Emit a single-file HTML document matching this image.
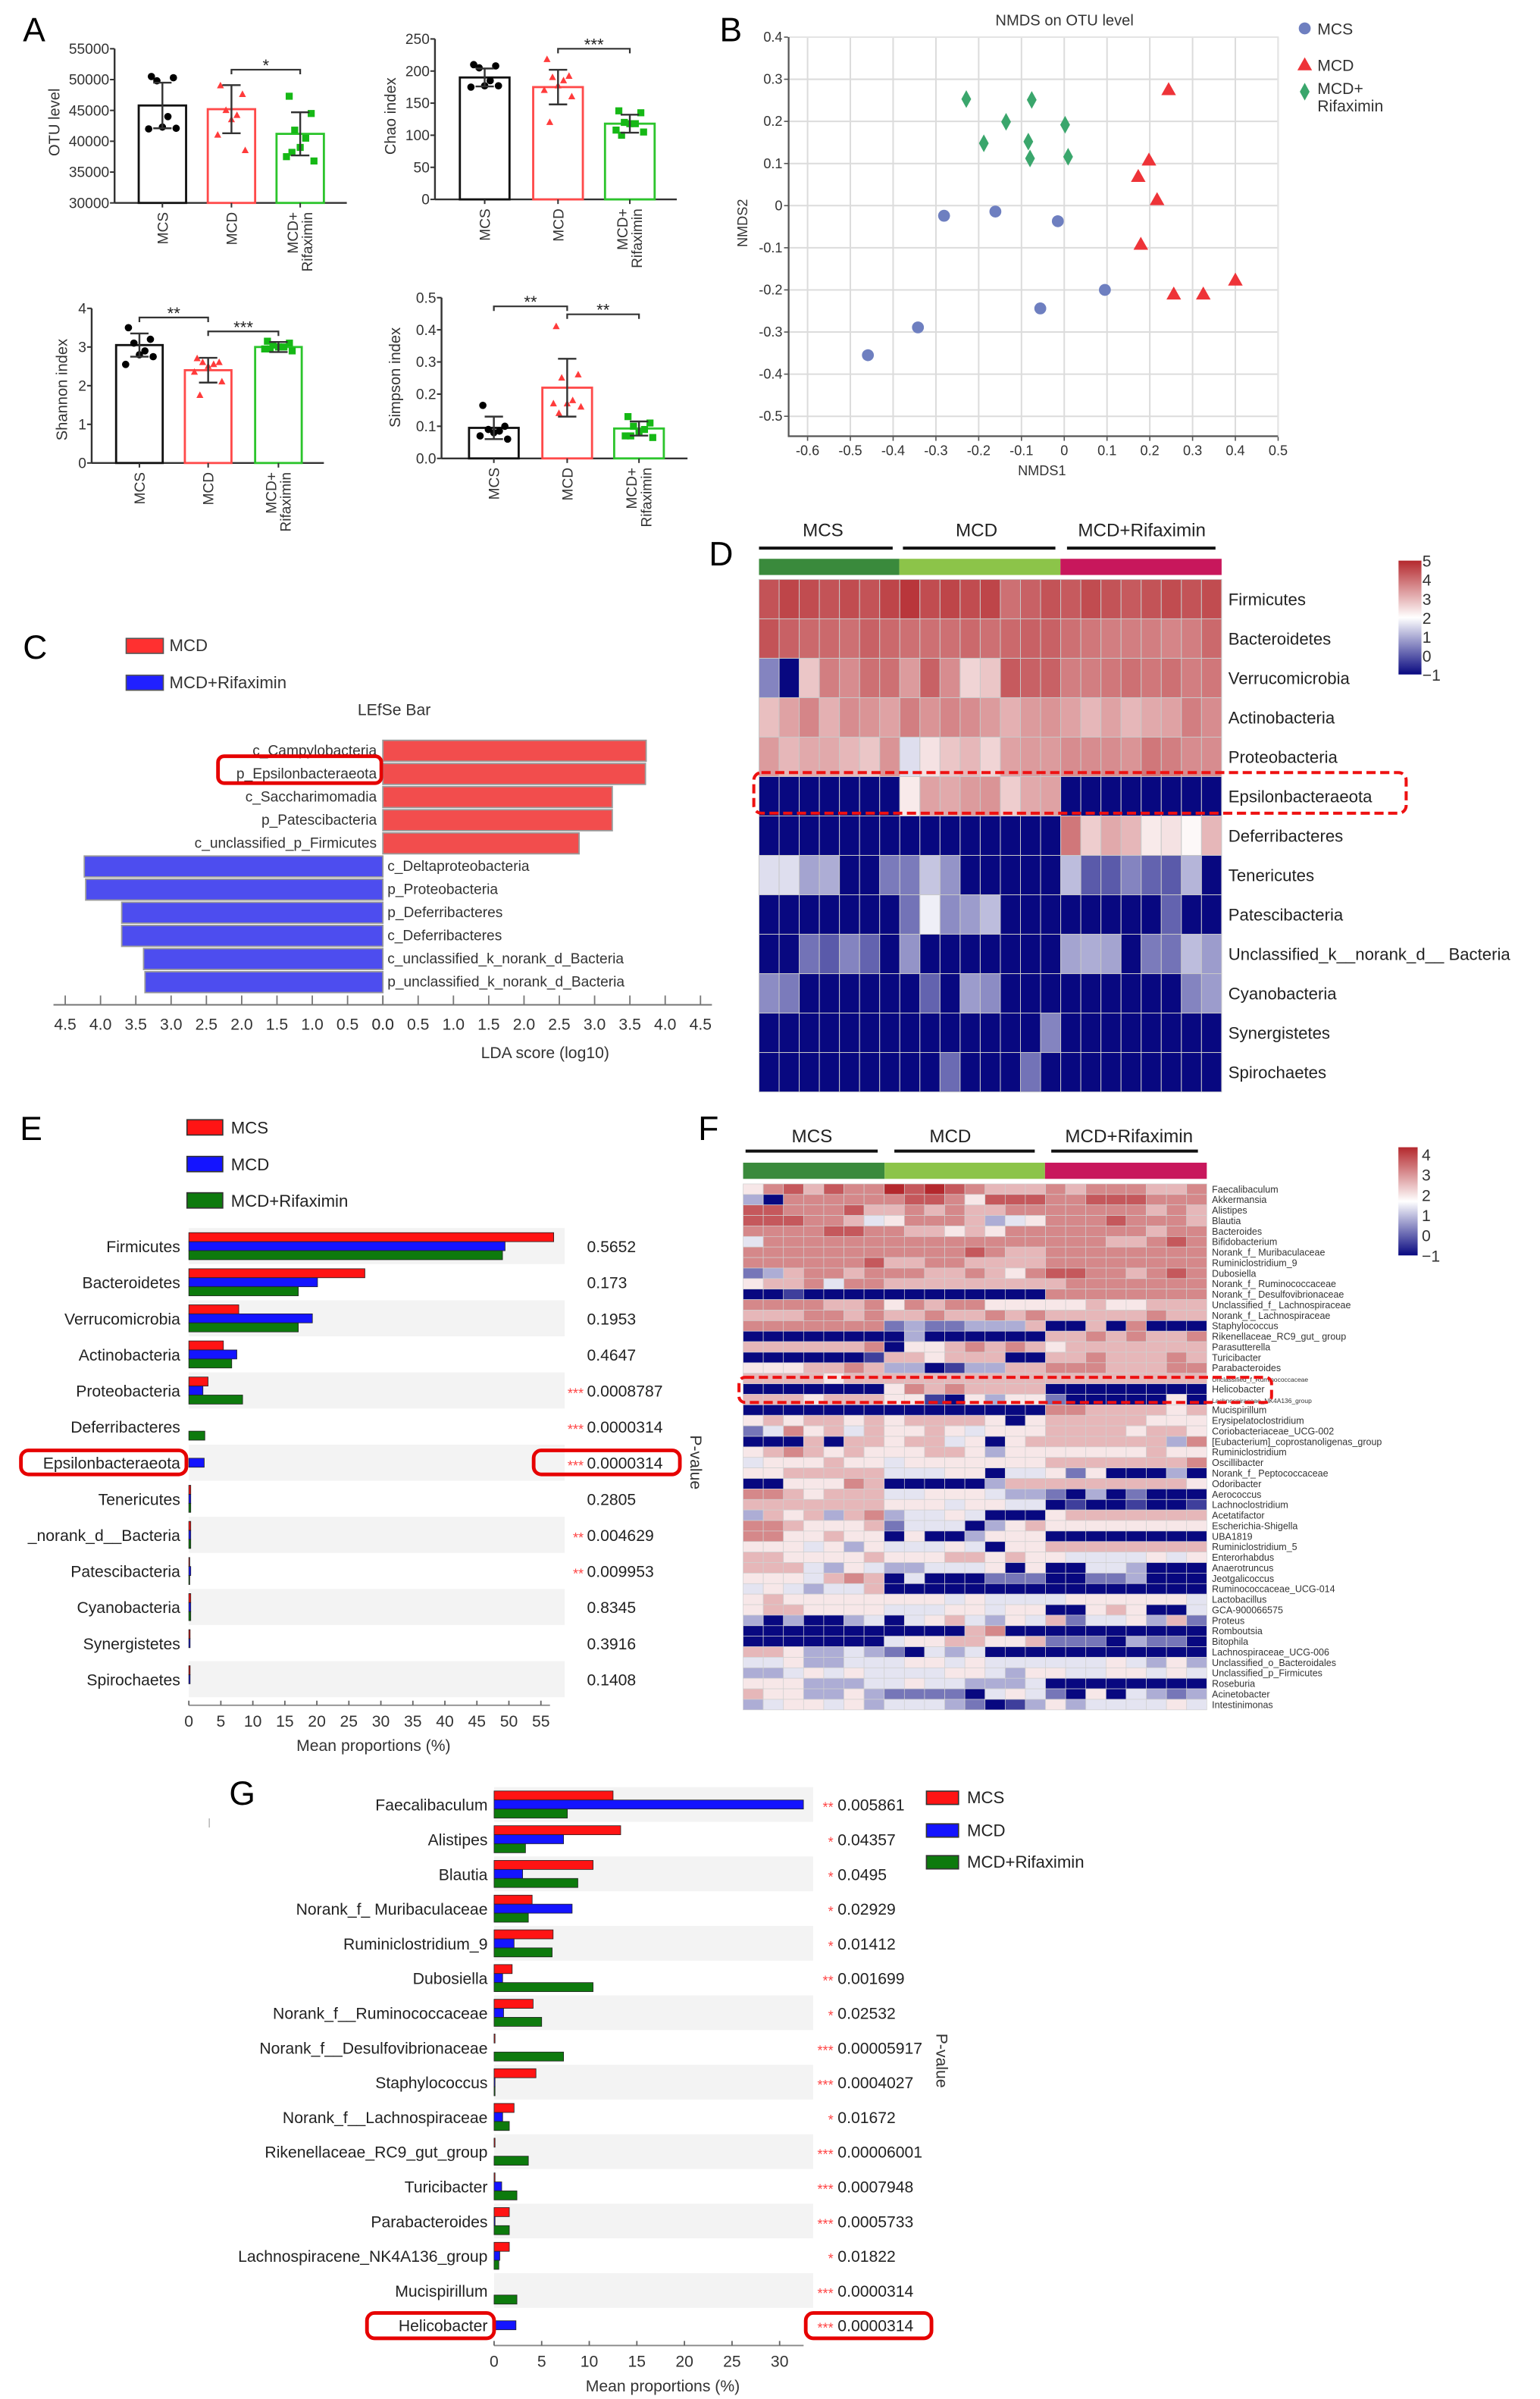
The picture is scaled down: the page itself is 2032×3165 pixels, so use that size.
<!DOCTYPE html>
<html><head><meta charset="utf-8">
<style>
html,body{margin:0;padding:0;background:#fff}
svg{display:block}
text{font-family:"Liberation Sans",Arial,sans-serif}
</style></head>
<body>
<svg id="fig" xmlns="http://www.w3.org/2000/svg" width="2032" height="3165" viewBox="0 0 1008 1570" preserveAspectRatio="none">
<defs>
<linearGradient id="gHeat" x1="0" y1="0" x2="0" y2="1">
<stop offset="0" stop-color="#b4282d"/><stop offset="0.5" stop-color="#ffffff"/><stop offset="1" stop-color="#080880"/>
</linearGradient>
</defs>
<rect width="1008" height="1570" fill="#fff"/>
<text x="15" y="27" font-size="22">A</text>
<text x="471" y="27" font-size="22">B</text>
<text x="15" y="431" font-size="22">C</text>
<text x="464" y="370" font-size="22">D</text>
<text x="13" y="746" font-size="22">E</text>
<text x="457" y="746" font-size="22">F</text>
<text x="150" y="1181" font-size="22">G</text>
</svg>
<script>
// ---------------- DATA ----------------
// Panel A
const aGroupLabels=['MCS','MCD','MCD+|Rifaximin'];
const otuMean=[45800,45200,41200];
const otuErr=[3700,3900,3500];
const otuPts=[[50500,50300,49800,44000,42300,42000,42100],[49000,47600,45000,44200,43500,41000,38500],[47300,44500,41800,40500,39000,37500,36800,38200]];
const chaoMean=[190,175,118];
const chaoErr=[14,27,14];
const chaoPts=[[210,208,205,185,177,175,177],[218,192,190,185,177,170,160,120],[138,135,120,118,118,108,105,100]];
const shanMean=[3.05,2.4,3.0];
const shanErr=[0.3,0.32,0.13];
const shanPts=[[3.5,3.2,3.1,2.9,2.8,2.55,2.75],[2.7,2.6,2.6,2.55,2.5,2.35,2.1,1.75],[3.15,3.1,3.05,3.0,3.0,2.95,2.9,2.95]];
const simpMean=[0.095,0.22,0.093];
const simpErr=[0.035,0.09,0.022];
const simpPts=[[0.165,0.1,0.09,0.085,0.08,0.07,0.06],[0.41,0.26,0.25,0.18,0.17,0.17,0.16,0.14],[0.13,0.11,0.1,0.09,0.08,0.07,0.065,0.07]];
// Panel B
const nmdsMCSx=[-0.459,-0.342,-0.281,-0.161,-0.015,0.095,-0.056];
const nmdsMCSy=[-0.355,-0.289,-0.024,-0.014,-0.037,-0.2,-0.244];
const nmdsMCDx=[0.244,0.198,0.173,0.217,0.179,0.256,0.325,0.4];
const nmdsMCDy=[0.275,0.108,0.069,0.014,-0.092,-0.21,-0.21,-0.177];
const nmdsRifx=[-0.229,-0.076,-0.136,0.002,-0.188,-0.084,-0.08,0.009];
const nmdsRify=[0.253,0.251,0.199,0.192,0.148,0.152,0.112,0.116];
const nmdsXTicks=[-0.6,-0.5,-0.4,-0.3,-0.2,-0.1,0,0.1,0.2,0.3,0.4,0.5];
const nmdsYTicks=[0.4,0.3,0.2,0.1,0,-0.1,-0.2,-0.3,-0.4,-0.5];
// Panel C
const lefseLabels=['c_Campylobacteria','p_Epsilonbacteraeota','c_Saccharimomadia','p_Patescibacteria','c_unclassified_p_Firmicutes','c_Deltaproteobacteria','p_Proteobacteria','p_Deferribacteres','c_Deferribacteres','c_unclassified_k_norank_d_Bacteria','p_unclassified_k_norank_d_Bacteria'];
const lefseScores=[3.73,3.72,3.25,3.25,2.78,-4.23,-4.21,-3.7,-3.7,-3.39,-3.37];
const ldaTicks=[4.5,4.0,3.5,3.0,2.5,2.0,1.5,1.0,0.5,0.0];
// Panel D
const dLabels=['Firmicutes','Bacteroidetes','Verrucomicrobia','Actinobacteria','Proteobacteria','Epsilonbacteraeota','Deferribacteres','Tenericutes','Patescibacteria','Unclassified_k__norank_d__ Bacteria','Cyanobacteria','Synergistetes','Spirochaetes'];
const dVals=[
[4.4,4.6,4.5,4.4,4.5,4.4,4.6, 4.8,4.5,4.6,4.5,4.6,4.0,4.2,4.4, 4.3,4.5,4.4,4.3,4.4,4.5,4.4,4.5],
[4.4,4.2,4.1,4.1,4.0,4.2,4.1, 4.0,4.0,4.0,4.1,4.0,4.1,4.2,4.2, 4.0,3.9,3.8,3.8,3.8,3.7,3.8,4.1],
[0.5,-1,2.8,3.8,3.6,4.0,4.0, 3.4,4.2,3.6,2.6,2.8,4.3,4.2,4.2, 3.8,3.8,3.9,4.0,3.9,4.0,3.8,3.9],
[2.9,3.3,3.7,3.1,3.6,3.5,3.3, 3.8,3.5,3.7,3.6,3.4,3.1,3.4,3.5, 3.3,3.0,3.3,3.0,3.2,3.3,3.8,3.6],
[3.4,3.0,3.2,3.2,3.0,2.8,3.5, 1.6,2.4,2.8,3.0,2.6,3.3,3.4,3.4, 3.6,3.6,3.6,3.5,3.9,3.8,3.6,3.6],
[-1,-1,-1,-1,-1,-1,-1, 2.3,3.3,3.2,3.4,3.5,2.7,3.2,3.3, -1,-1,-1,-1,-1,-1,-1,-1],
[-1,-1,-1,-1,-1,-1,-1, -1,-1,-1,-1,-1,-1,-1,-1, 3.9,2.7,3.2,3.0,2.3,2.4,2.1,3.0],
[1.6,1.6,0.9,1.0,-1,-1,0.4, 0.4,1.3,0.7,-1,-1,-1,-1,-1, 1.2,0.0,0.0,0.5,0.1,0.0,1.1,-1],
[-1,-1,-1,-1,-1,-1,-1, 0.3,1.8,0.6,0.8,1.2,-1,-1,-1, -1,-1,-1,-1,-1,0.1,-1,-1],
[-1,-1,0.3,0.0,0.5,0.1,-1, 0.7,-1,-1,-1,-1,-1,-1,-1, 0.9,1.0,0.9,-1,0.4,0.3,1.2,0.8],
[0.6,0.4,-1,-1,-1,-1,-1, -1,0.1,-1,0.8,0.6,-1,-1,-1, -1,-1,-1,-1,-1,-1,0.5,0.8],
[-1,-1,-1,-1,-1,-1,-1, -1,-1,-1,-1,-1,-1,-1,0.5, -1,-1,-1,-1,-1,-1,-1,-1],
[-1,-1,-1,-1,-1,-1,-1, -1,-1,0.2,-1,-1,-1,0.3,-1, -1,-1,-1,-1,-1,-1,-1,-1]];
const dScaleLabels=['5','4','3','2','1','0','\u22121'];
// Panel E
const eLabels=['Firmicutes','Bacteroidetes','Verrucomicrobia','Actinobacteria','Proteobacteria','Deferribacteres','Epsilonbacteraeota','Tenericutes','_norank_d__Bacteria','Patescibacteria','Cyanobacteria','Synergistetes','Spirochaetes'];
const eMCS=[57.0,27.5,7.8,5.4,3.0,0,0,0.3,0.3,0.1,0.3,0.2,0.2];
const eMCD=[49.4,20.1,19.3,7.5,2.2,0,2.4,0.3,0.3,0.3,0.3,0.2,0.2];
const eRif=[49.0,17.1,17.1,6.7,8.4,2.5,0,0.3,0.3,0.1,0.3,0,0];
const eP=['0.5652','0.173','0.1953','0.4647','0.0008787','0.0000314','0.0000314','0.2805','0.004629','0.009953','0.8345','0.3916','0.1408'];
const eStars=['','','','','***','***','***','','**','**','','',''];
const eTicks=[0,5,10,15,20,25,30,35,40,45,50,55];
// Panel F  (each char 0..9 -> value -1 + d*5/9)
const fLabels=['Faecalibaculum','Akkermansia','Alistipes','Blautia','Bacteroides','Bifidobacterium','Norank_f_ Muribaculaceae','Ruminiclostridium_9','Dubosiella','Norank_f_ Ruminococcaceae','Norank_f_ Desulfovibrionaceae','Unclassified_f_ Lachnospiraceae','Norank_f_ Lachnospiraceae','Staphylococcus','Rikenellaceae_RC9_gut_ group','Parasutterella','Turicibacter','Parabacteroides','Unclassified_f_Ruminococcaceae','Helicobacter','Lachnospiraceae_NK4A136_group','Mucispirillum','Erysipelatoclostridium','Coriobacteriaceae_UCG-002','[Eubacterium]_coprostanoligenas_group','Ruminiclostridium','Oscillibacter','Norank_f_ Peptococcaceae','Odoribacter','Aerococcus','Lachnoclostridium','Acetatifactor','Escherichia-Shigella','UBA1819','Ruminiclostridium_5','Enterorhabdus','Anaerotruncus','Jeotgalicoccus','Ruminococcaceae_UCG-014','Lactobacillus','GCA-900066575','Proteus','Romboutsia','Bitophila','Lachnospiraceae_UCG-006','Unclassified_o_Bacteroidales','Unclassified_p_Firmicutes','Roseburia','Acinetobacter','Intestinimonas'];
const fCodes=['57868779898766676777667','30777777887588877888777','88777866767667777777676','88877645777634577787776','77778877665657777777677','47777777777777777766787','77777777777876677777777','77777786677666677777777','23677677766765788776787','56674776666666667777777','00100000000000077777777','77776675767755555655666','66677676676676766666766','77777772322333600607000','00000000300000066767667','66666670556767656666666','00000016656660066766676','55566763301336677766677','66665666666666666666666','00000005767666600000000','66656665510535520000050','00000000000000077666656','56566565666650566666555','24756465565455566665665','00060665664505666666637','56765655566535555555655','45556554555555566666667','55666664445504452500030','00555760000036666666665','77656664455543320302000','66666665554554401001001','36563673445400056666666','77655562444035655555555','77556550500355500000000','55545354445405566666666','66555565556656554444545','66643543344450500443000','55546760400022200223000','45434460000000000000000','56555555554544445555554','56655554445545500565004','30300340456435462445362','00000000000670000000000','00000004556655622203220','66533432043400000000000','44533444554544444454353','33454544445543554455454','55533344544333400000000','65533532222045420504323','34554534443201353444454'];
const fScaleLabels=['4','3','2','1','0','\u22121'];
// Panel G
const gLabels=['Faecalibaculum','Alistipes','Blautia','Norank_f_ Muribaculaceae','Ruminiclostridium_9','Dubosiella','Norank_f__Ruminococcaceae','Norank_f__Desulfovibrionaceae','Staphylococcus','Norank_f__Lachnospiraceae','Rikenellaceae_RC9_gut_group','Turicibacter','Parabacteroides','Lachnospiracene_NK4A136_group','Mucispirillum','Helicobacter'];
const gMCS=[12.5,13.3,10.4,4.0,6.2,1.9,4.1,0.1,4.4,2.1,0.1,0.1,1.6,1.6,0,0];
const gMCD=[32.5,7.3,3.0,8.2,2.1,0.9,1.0,0,0.1,0.9,0,0.8,0.1,0.6,0,2.3];
const gRif=[7.7,3.3,8.8,3.6,6.1,10.4,5.0,7.3,0.1,1.6,3.6,2.4,1.6,0.5,2.4,0];
const gP=['0.005861','0.04357','0.0495','0.02929','0.01412','0.001699','0.02532','0.00005917','0.0004027','0.01672','0.00006001','0.0007948','0.0005733','0.01822','0.0000314','0.0000314'];
const gStars=['**','*','*','*','*','**','*','***','***','*','***','***','***','*','***','***'];
const gTicks=[0,5,10,15,20,25,30];

// ---------------- HELPERS ----------------
const NS='http://www.w3.org/2000/svg';
const svg=document.getElementById('fig');
function mk(tag,attrs,parent){const e=document.createElementNS(NS,tag);for(const k in attrs)e.setAttribute(k,attrs[k]);(parent||svg).appendChild(e);return e;}
function tx(s,x,y,attrs,parent){const e=mk('text',Object.assign({x:x,y:y},attrs||{}),parent);e.textContent=s;return e;}
function heat(v,vmin,vmax){
  const mid=(vmin+vmax)/2;
  const navy=[8,8,128],wh=[255,255,255],red=[180,40,45];
  let a,b,t;
  if(v<=mid){a=navy;b=wh;t=(v-vmin)/(mid-vmin);}else{a=wh;b=red;t=(v-mid)/(vmax-mid);}
  t=Math.max(0,Math.min(1,t));
  return 'rgb('+a.map((c,i)=>Math.round(c+(b[i]-c)*t)).join(',')+')';
}

// ---------------- PANEL A ----------------
const barCols=['#111111','#ff4a4a','#2cc42c'];
const jit=[-8,8,-4,4,0,-10,10,-6];
function barPanel(c){
  const g=mk('g',{});
  
  
  const ys=v=>c.yBot-(v-c.vmin)/(c.vmax-c.vmin)*(c.yBot-c.yTop);
  const ya=mk('line',{x1:c.x0,y1:c.yTop,x2:c.x0,y2:c.yBot,stroke:'#333','stroke-width':1.2},g);
  
  
  const xa=mk('line',{x1:c.x0,y1:c.yBot,x2:c.xEnd,y2:c.yBot,stroke:'#333','stroke-width':1.2},g);
  
  
  c.ticks.forEach((t,i)=>{
    const y=ys(t);
    mk('line',{x1:c.x0-3,y1:y,x2:c.x0,y2:y,stroke:'#333','stroke-width':1},g);
    const l=tx(c.tickLabels[i],c.x0-3.5,y+3.3,{'font-size':9.5,'text-anchor':'end',fill:'#333'},g);
    
    
  });
  const yl=tx(c.ylabel,c.ylx,c.yly,{'font-size':10,'text-anchor':'middle',fill:'#333',transform:'rotate(-90 '+c.ylx+' '+c.yly+')'},g);
  
  
  c.mean.forEach((m,i)=>{
    const x=c.barL[i],cx=x+c.barW/2;
    const r=mk('rect',{x:x,y:ys(m),width:c.barW,height:c.yBot-ys(m),fill:'none',stroke:barCols[i],'stroke-width':1.4},g);
    
    
    mk('line',{x1:cx,y1:c.yBot,x2:cx,y2:c.yBot+3,stroke:'#333','stroke-width':1},g);
    c.pts[i].forEach((p,k)=>{
      const px=cx+jit[k%jit.length]*0.9,py=ys(p);
      let mEl;
      if(i===0) mEl=mk('circle',{cx:px,cy:py,r:2.4,fill:'#000'},g);
      else if(i===1) mEl=mk('polygon',{points:(px)+','+(py-2.6)+' '+(px-2.3)+','+(py+1.7)+' '+(px+2.3)+','+(py+1.7),fill:'#ff3b3b'},g);
      else mEl=mk('rect',{x:px-2.3,y:py-2.3,width:4.6,height:4.6,fill:'#16b816'},g);
      
      
    });
    const e=c.err[i];
    const eb=mk('path',{d:'M'+cx+' '+ys(m-e)+'V'+ys(m+e)+'M'+(cx-6)+' '+ys(m-e)+'H'+(cx+6)+'M'+(cx-6)+' '+ys(m+e)+'H'+(cx+6),stroke:'#333','stroke-width':1.2,fill:'none'},g);
    
    
    const parts=aGroupLabels[i].split('|');
    const ty=c.yBot+6;
    if(parts.length===1){
      const l=tx(parts[0],cx+3.5,ty,{'font-size':9.5,'text-anchor':'end',fill:'#333',transform:'rotate(-90 '+(cx+3.5)+' '+ty+')'},g);
      
      
    } else {
      const l1=tx(parts[0],cx-1.5,ty,{'font-size':9.5,'text-anchor':'end',fill:'#333',transform:'rotate(-90 '+(cx-1.5)+' '+ty+')'},g);
      
      
      const l2=tx(parts[1],cx+8,ty,{'font-size':9.5,'text-anchor':'end',fill:'#333',transform:'rotate(-90 '+(cx+8)+' '+ty+')'},g);
      
      
    }
  });
  c.brackets.forEach(b=>{
    const x1=c.barL[b[0]]+c.barW/2,x2=c.barL[b[1]]+c.barW/2,y=b[2];
    const br=mk('path',{d:'M'+x1+' '+(y+3)+'V'+y+'H'+x2+'V'+(y+3),stroke:'#333','stroke-width':1.1,fill:'none'},g);
    
    
    const s=tx(b[3],(x1+x2)/2,y+1,{'font-size':11,'text-anchor':'middle',fill:'#222'},g);
    
    
  });
}
barPanel({name:'otu-level-chart',x0:75,xEnd:227,yTop:31.9,yBot:132.8,vmin:30000,vmax:55000,ticks:[30000,35000,40000,45000,50000,55000],tickLabels:['30000','35000','40000','45000','50000','55000'],barL:[90.8,136,181],barW:31,mean:otuMean,err:otuErr,pts:otuPts,ylabel:'OTU level',ylx:39,yly:80,brackets:[[1,2,45.6,'*']]});
barPanel({name:'chao-index-chart',x0:284.7,xEnd:443,yTop:25.5,yBot:130.5,vmin:0,vmax:250,ticks:[0,50,100,150,200,250],tickLabels:['0','50','100','150','200','250'],barL:[301,349,396],barW:32.5,mean:chaoMean,err:chaoErr,pts:chaoPts,ylabel:'Chao index',ylx:259,yly:76,brackets:[[1,2,31.9,'***']]});
barPanel({name:'shannon-index-chart',x0:60,xEnd:212,yTop:201.8,yBot:303,vmin:0,vmax:4,ticks:[0,1,2,3,4],tickLabels:['0','1','2','3','4'],barL:[76,121,167],barW:30.5,mean:shanMean,err:shanErr,pts:shanPts,ylabel:'Shannon index',ylx:44,yly:255,brackets:[[0,1,207.8,'**'],[1,2,216.9,'***']]});
barPanel({name:'simpson-index-chart',x0:289,xEnd:450,yTop:194.8,yBot:300,vmin:0,vmax:0.5,ticks:[0,0.1,0.2,0.3,0.4,0.5],tickLabels:['0.0','0.1','0.2','0.3','0.4','0.5'],barL:[307,355,402],barW:32.5,mean:simpMean,err:simpErr,pts:simpPts,ylabel:'Simpson index',ylx:262,yly:247,brackets:[[0,1,200.5,'**'],[1,2,205.7,'**']]});

// ---------------- PANEL B ----------------
(function(){
  const g=mk('g',{});
  
  
  const L=516.2,R=836.5,T=24.3,B=285.5;
  const xs=v=>528.6+(v+0.6)*280;
  const ys=v=>24.3+(0.4-v)*275.7;
  nmdsXTicks.forEach(t=>{
    const x=xs(t);
    mk('line',{x1:x,y1:T,x2:x,y2:B,stroke:'#dcdcdc','stroke-width':1},g);
    mk('line',{x1:x,y1:B,x2:x,y2:B+3,stroke:'#555','stroke-width':0.8},g);
    const l=tx(String(t),x,298,{'font-size':9,'text-anchor':'middle',fill:'#333'},g);
    
    
  });
  nmdsYTicks.forEach(t=>{
    const y=ys(t);
    mk('line',{x1:L,y1:y,x2:R,y2:y,stroke:'#dcdcdc','stroke-width':1},g);
    mk('line',{x1:L-3,y1:y,x2:L,y2:y,stroke:'#555','stroke-width':0.8},g);
    const l=tx(String(t),L-4,y+3,{'font-size':9,'text-anchor':'end',fill:'#333'},g);
    
    
  });
  mk('rect',{x:L,y:T,width:R-L,height:B-T,fill:'none',stroke:'#e4e4e4','stroke-width':1},g);
  const ax=mk('path',{d:'M'+L+' '+T+'V'+B+'H'+R,stroke:'#555','stroke-width':1.1,fill:'none'},g);
  
  
  const t1=tx('NMDS on OTU level',696.8,16.5,{'font-size':10,'text-anchor':'middle',fill:'#333'},g);
  
  
  const t2=tx('NMDS1',682,311,{'font-size':9,'text-anchor':'middle',fill:'#333'},g);
  
  
  const t3=tx('NMDS2',489,146,{'font-size':9,'text-anchor':'middle',fill:'#333',transform:'rotate(-90 489 146)'},g);
  
  
  function circ(x,y){return mk('ellipse',{cx:x,cy:y,rx:3.9,ry:3.9,fill:'#6e7fc0'},g);}
  function tri(x,y){return mk('polygon',{points:x+','+(y-5)+' '+(x-4.8)+','+(y+3.5)+' '+(x+4.8)+','+(y+3.5),fill:'#ee3338'},g);}
  function dia(x,y){return mk('polygon',{points:x+','+(y-5.8)+' '+(x+3.2)+','+y+' '+x+','+(y+5.8)+' '+(x-3.2)+','+y,fill:'#3aa66c'},g);}
  nmdsMCSx.forEach((v,i)=>{const p=circ(xs(v),ys(nmdsMCSy[i]));
    
    });
  nmdsMCDx.forEach((v,i)=>{const p=tri(xs(v),ys(nmdsMCDy[i]));
    
    });
  nmdsRifx.forEach((v,i)=>{const p=dia(xs(v),ys(nmdsRify[i]));
    
    });
  const lg1=circ(854,18.6);
  
  
  const lg2=tri(854,42.5);
  
  
  const lg3=dia(854,60);
  
  
  const e1=tx('MCS',862.3,22.5,{'font-size':10.5,fill:'#333'},g);
  
  
  const e2=tx('MCD',862.3,46.5,{'font-size':10.5,fill:'#333'},g);
  
  
  const e3=tx('MCD+',862.3,61.5,{'font-size':10.5,fill:'#333'},g);
  
  
  const e4=tx('Rifaximin',862.3,72.8,{'font-size':10.5,fill:'#333'},g);
  
  
})();

// ---------------- PANEL C ----------------
(function(){
  const g=mk('g',{});
  
  
  const z=250.6,sc=46.2;
  const r1=mk('rect',{x:82.6,y:417.8,width:24.3,height:9.8,fill:'#ff3030',stroke:'#555','stroke-width':0.8},g);
  
  
  const r2=mk('rect',{x:82.6,y:441.9,width:24.3,height:9.8,fill:'#2020ff',stroke:'#555','stroke-width':0.8},g);
  
  
  const l1=tx('MCD',110.9,426,{'font-size':11,fill:'#333'},g);
  
  
  const l2=tx('MCD+Rifaximin',110.9,450.5,{'font-size':11,fill:'#333'},g);
  
  
  const tt=tx('LEfSe Bar',258,468,{'font-size':10.5,'text-anchor':'middle',fill:'#333'},g);
  
  
  lefseScores.forEach((v,i)=>{
    const top=484.5+i*15.14;
    const w=Math.abs(v)*sc;
    const b=mk('rect',{x:v>0?z:z-w,y:top,width:w,height:13.7,fill:v>0?'#f24d4d':'#4d4def',stroke:'#9a9a9a','stroke-width':0.9},g);
    
    
    const l=tx(lefseLabels[i],v>0?z-4:z+3,top+9.8,{'font-size':9.5,'text-anchor':v>0?'end':'start',fill:'#333'},g);
    
    
  });
  const hb=mk('rect',{x:142.7,y:494.9,width:106.9,height:17.6,rx:4,fill:'none',stroke:'#e60000','stroke-width':2.4},g);
  
  
  const ax=mk('line',{x1:35,y1:657.6,x2:466,y2:657.6,stroke:'#777','stroke-width':1},g);
  
  
  ldaTicks.forEach(t=>{
    [z-t*sc,z+t*sc].forEach(x=>{
      mk('line',{x1:x,y1:651.5,x2:x,y2:657.6,stroke:'#777','stroke-width':0.9},g);
      const l=tx(t.toFixed(1),x,674,{'font-size':10.5,'text-anchor':'middle',fill:'#333'},g);
      
      
    });
  });
  const at=tx('LDA score (log10)',356.8,692.5,{'font-size':10.5,'text-anchor':'middle',fill:'#333'},g);
  
  
})();

// ---------------- HEATMAP HELPER ----------------
function groupHeader(g,labelsX,labelY,lines,lineY,stripX,stripY,stripH,fs){
  const names=['MCS','MCD','MCD+Rifaximin'];
  const cols=['#3a8a3c','#8cc449','#c8175c'];
  names.forEach((n,i)=>{
    const t=tx(n,labelsX[i],labelY,{'font-size':fs,'text-anchor':'middle',fill:'#222'},g);
    
    
    const ln=mk('line',{x1:lines[i][0],y1:lineY,x2:lines[i][1],y2:lineY,stroke:'#111','stroke-width':2},g);
    
    
    const s=mk('rect',{x:stripX[i],y:stripY,width:stripX[i+1]-stripX[i],height:stripH,fill:cols[i]},g);
    
    
  });
}

// ---------------- PANEL D ----------------
(function(){
  const g=mk('g',{});
  
  
  const x0=496.8,cw=(799.6-496.8)/23,y0=379.2,rh=25.8;
  groupHeader(g,[538.7,639.2,747.4],351,[[496.8,584.3],[591,690.8],[698.4,795.6]],358.7,[496.8,588.6,694.1,799.6],365.7,10.6,12);
  dVals.forEach((row,r)=>{
    row.forEach((v,c)=>{
      const cell=mk('rect',{x:x0+c*cw,y:y0+r*rh,width:cw,height:rh,fill:heat(v,-1,5),stroke:'#c8c8c8','stroke-width':0.5},g);
      
      
    });
    const l=tx(dLabels[r],804,y0+r*rh+rh/2+4,{'font-size':11,fill:'#222'},g);
    
    
  });
  const hb=mk('rect',{x:493.4,y:505.6,width:427,height:26.6,rx:5,fill:'none',stroke:'#ee1111','stroke-width':2,'stroke-dasharray':'6 3'},g);
  
  
  const cb=mk('rect',{x:915.4,y:366.9,width:15,height:74.5,fill:'url(#gHeat)'},g);
  
  
  dScaleLabels.forEach((s,i)=>{
    const y=366.9+i*74.5/6;
    const l=tx(s,931,y+4,{'font-size':10.5,fill:'#333'},g);
    
    
  });
})();

// ---------------- PANEL F ----------------
(function(){
  const g=mk('g',{});
  
  
  const x0=486.4,cw=(789.9-486.4)/23,y0=774.8,rh=(1119-774.8)/50;
  groupHeader(g,[531.5,622,739],747.5,[[488,574.5],[585.4,677.3],[688.1,784.1]],753.3,[486.4,579,684,789.9],760.9,10.6,12);
  fCodes.forEach((row,r)=>{
    for(let c=0;c<row.length;c++){
      const v=-1+parseInt(row[c],10)*5/9;
      const cell=mk('rect',{x:x0+c*cw,y:y0+r*rh,width:cw,height:rh,fill:heat(v,-1,4),stroke:'#d0d0d0','stroke-width':0.35},g);
      
      
    }
    const small=(r===18||r===20);
    const l=tx(fLabels[r],793.3,y0+r*rh+rh/2+2.2,{'font-size':small?4.2:6.2,fill:'#333'},g);
    
    
  });
  const hb=mk('rect',{x:483.7,y:901.4,width:348.6,height:16.4,rx:4,fill:'none',stroke:'#ee1111','stroke-width':2,'stroke-dasharray':'6 3'},g);
  
  
  const cb=mk('rect',{x:915.3,y:750.8,width:12.6,height:70.8,fill:'url(#gHeat)'},g);
  
  
  fScaleLabels.forEach((s,i)=>{
    const y=755.5+i*(70.8-4.7)/5;
    const l=tx(s,930.6,y+4,{'font-size':10.5,fill:'#333'},g);
    
    
  });
})();

// ---------------- HBAR HELPER (E, G) ----------------
const hbCols=['#ff1414','#1414ff','#0d7a0d'];
function hbar(c){
  const g=mk('g',{});
  
  
  c.labels.forEach((lab,i)=>{
    const cy=c.c0+i*c.pitch;
    if(i%2===0){
      const band=mk('rect',{x:c.z,y:cy-c.pitch/2,width:c.bandR-c.z,height:c.pitch,fill:'#f3f3f3'},g);
      
      
    }
  });
  c.labels.forEach((lab,i)=>{
    const cy=c.c0+i*c.pitch;
    c.series.forEach((arr,k)=>{
      const v=arr[i];
      if(v<=0) return;
      const b=mk('rect',{x:c.z,y:cy-8.8+k*5.9,width:Math.max(v*c.sc,0.6),height:5.9,fill:hbCols[k],stroke:'#222','stroke-width':0.4},g);
      
      
    });
    const l=tx(lab,c.labelX,cy+4,{'font-size':c.fs,'text-anchor':'end',fill:'#222'},g);
    
    
    const p=tx(c.p[i],c.pX,cy+4,{'font-size':c.fs,fill:'#222'},g);
    
    
    if(c.stars[i]){
      const s=tx(c.stars[i],c.starX,cy+5,{'font-size':9,'text-anchor':'end',fill:'#ff4444'},g);
      
      
    }
  });
  const ax=mk('line',{x1:c.z,y1:c.axY,x2:c.axR,y2:c.axY,stroke:'#888','stroke-width':0.9},g);
  
  
  c.ticks.forEach(t=>{
    const x=c.z+t*c.sc;
    mk('line',{x1:x,y1:c.axY-3,x2:x,y2:c.axY,stroke:'#666','stroke-width':0.9},g);
    const l=tx(String(t),x,c.axY+14,{'font-size':10.5,'text-anchor':'middle',fill:'#333'},g);
    
    
  });
  const at=tx('Mean proportions (%)',c.titleX,c.axY+30,{'font-size':10.5,'text-anchor':'middle',fill:'#333'},g);
  
  
  const pv=tx('P-value',c.pvX,c.pvY,{'font-size':10.5,'text-anchor':'middle',fill:'#333',transform:'rotate(90 '+c.pvX+' '+c.pvY+')'},g);
  
  
  return g;
}
const gE=hbar({name:'phylum-proportion-chart',z:123.6,sc:4.19,c0:815.5,pitch:23.62,bandR:369.6,labels:eLabels,series:[eMCS,eMCD,eRif],p:eP,stars:eStars,labelX:118,pX:384.2,starX:382,fs:10.5,ticks:eTicks,axY:1116,axR:360,titleX:244.5,pvX:452,pvY:957});
const gG=hbar({name:'genus-proportion-chart',z:323.4,sc:6.23,c0:1180.9,pitch:22.72,bandR:532.2,labels:gLabels,series:[gMCS,gMCD,gRif],p:gP,stars:gStars,labelX:319.2,pX:548.3,starX:545.5,fs:10.5,ticks:gTicks,axY:1535,axR:526,titleX:433.8,pvX:613,pvY:1348.6});

// legends E & G
(function(){
  const names=['MCS','MCD','MCD+Rifaximin'];
  const eY=[732.8,756.8,780.6];
  names.forEach((n,i)=>{
    const r=mk('rect',{x:122.4,y:eY[i],width:23.4,height:10,fill:hbCols[i],stroke:'#333','stroke-width':0.8},gE);
    
    
    const t=tx(n,151.2,eY[i]+9,{'font-size':11,fill:'#222'},gE);
    
    
  });
  const gY=[1172.2,1193.6,1214.4];
  names.forEach((n,i)=>{
    const r=mk('rect',{x:606.4,y:gY[i],width:21,height:8.7,fill:hbCols[i],stroke:'#333','stroke-width':0.8},gG);
    
    
    const t=tx(n,633,gY[i]+8,{'font-size':11,fill:'#222'},gG);
    
    
  });
  const hl=[[13.7,949.2,108.3,15.7],[349.3,949.2,95.7,15.7],[240.2,1513.7,83.2,16.6],[527.4,1513.7,82.3,16.6]];
  hl.forEach(h=>{
    const b=mk('rect',{x:h[0],y:h[1],width:h[2],height:h[3],rx:5,fill:'none',stroke:'#e60000','stroke-width':2.4});
    
    
  });
  const m=mk('line',{x1:137,y1:1190,x2:137,y2:1196,stroke:'#bbb','stroke-width':0.8});
  
  
})();
</script>
</body></html>
